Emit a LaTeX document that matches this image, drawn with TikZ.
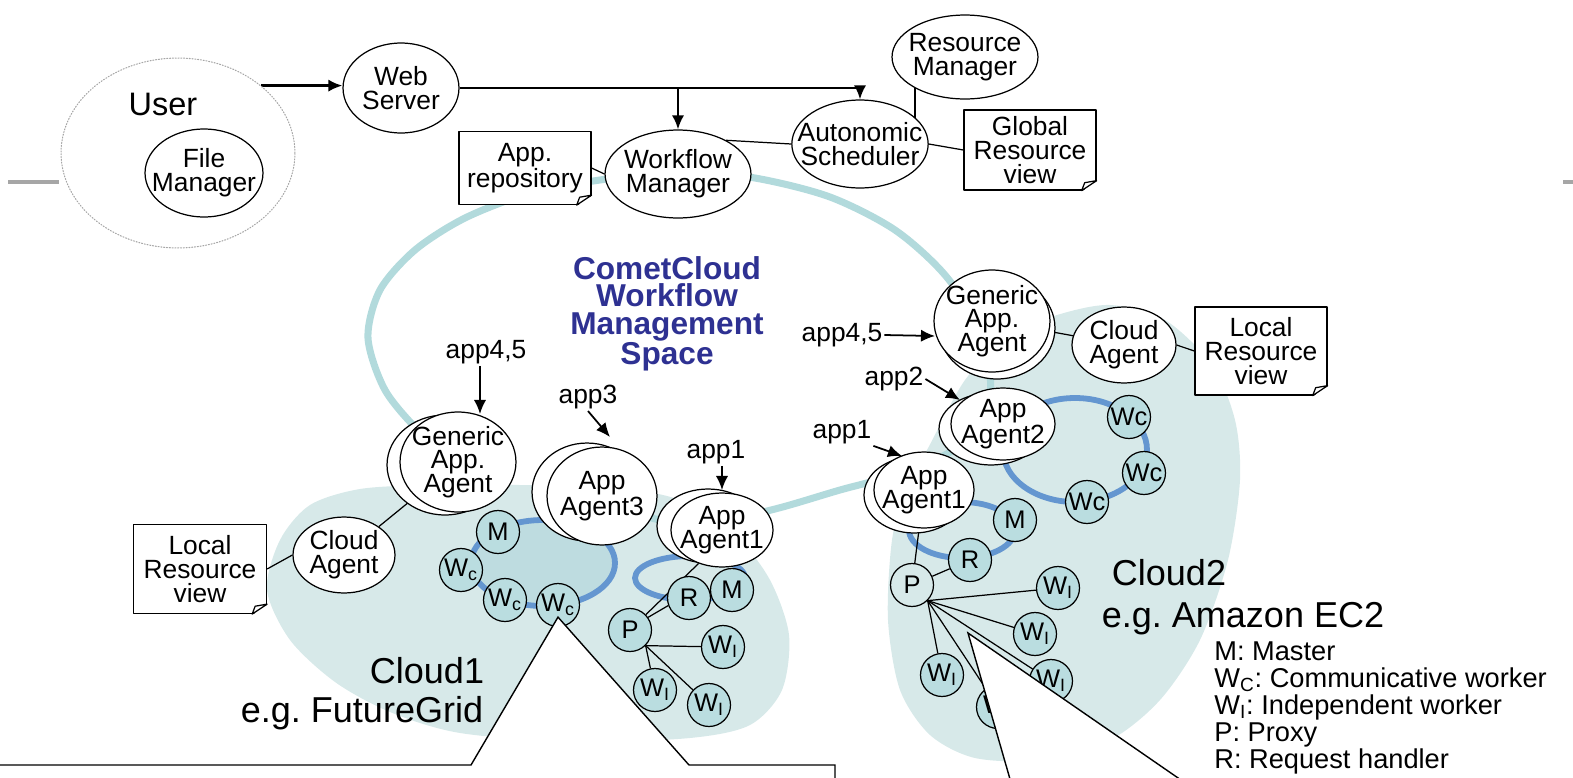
\documentclass[tikz,border=0pt]{standalone}
\usepackage{fontspec}
\setmainfont{Liberation Sans}
\usepackage{xcolor}
\usepackage{tikz}
\usetikzlibrary{arrows.meta,shapes.geometric}

\definecolor{ringteal}{RGB}{178,218,220}
\definecolor{cloudfill}{RGB}{215,233,233}
\definecolor{unitfill}{RGB}{186,221,224}
\definecolor{poolfill}{RGB}{190,220,224}
\definecolor{poolblue}{RGB}{100,150,208}
\definecolor{cometblue}{RGB}{46,49,146}

\pgfdeclarelayer{back}
\pgfdeclarelayer{wires}
\pgfsetlayers{back,wires,main}

\newcommand{\wsub}[1]{W\textsubscript{#1}}
\frenchspacing

\begin{document}
\begin{tikzpicture}[
		x=0.02cm,
		y=-0.02cm,
		>={Latex[length=8pt,width=7pt]},
		line cap=round,
		line join=round,
		comp/.style={ellipse,draw,fill=white,line width=0.7pt,inner sep=-8pt,align=center,font=\fontsize{15}{13.5}\selectfont},
		rad/.style 2 args={minimum width=#1*0.04cm,minimum height=#2*0.04cm},
		note/.style={rectangle,draw,fill=white,line width=0.7pt,inner sep=0pt,align=center,font=\fontsize{15}{13.5}\selectfont},
		notesize/.style 2 args={minimum width=#1*0.02cm,minimum height=#2*0.02cm},
		unit/.style={circle,draw,fill=unitfill,line width=0.7pt,minimum size=0.86cm,inner sep=0pt,font=\fontsize{14.5}{14.5}\selectfont},
		conn/.style={line width=0.7pt},
		mainflow/.style={line width=1.4pt,->},
		appflow/.style={line width=1pt,->},
		applbl/.style={inner sep=1pt,font=\fontsize{15}{15}\selectfont},
		cloudtxt/.style={anchor=base,inner sep=0pt,font=\fontsize{20.5}{20.5}\selectfont},
		legendtxt/.style={anchor=base west,inner sep=0pt,font=\fontsize{15.5}{15.5}\selectfont},
		spacering/.style={draw=ringteal,line width=4pt},
		pool/.style={draw=poolblue,line width=3.3pt},
		callout/.style={draw,fill=white,line width=0.8pt,line join=miter}
	]
	
	\useasboundingbox (0,0) rectangle (1573,778);
	
	% clouds and the shared space
	\begin{pgfonlayer}{back}
		\fill[cloudfill] plot[smooth cycle] coordinates {(267,590) (280,540) (310,505) (360,489) (430,485) (520,485) (610,487) (680,500) (735,535) (770,580) (789,635) (782,690) (750,725) (690,738) (575,742) (460,733) (390,712) (335,682) (290,640)};
		\fill[cloudfill] plot[smooth cycle] coordinates {(1057,315) (1110,305) (1165,320) (1212,365) (1235,420) (1240,480) (1228,560) (1200,640) (1160,700) (1110,740) (1040,760) (975,758) (930,735) (900,690) (888,620) (892,540) (907,483) (927,450) (965,380) (1010,335)};
		\draw[spacering] plot[smooth] coordinates {(590,495) (640,515) (700,525) (775,509) (840,490) (905,472) (960,445) (990,395) (980,330) (945,275) (895,230) (830,197) (755,178) (680,171) (600,180) (530,193) (465,218) (415,250) (380,290) (368,338) (385,390) (420,432) (458,460)};
		\filldraw[pool,fill=poolfill] (543,563) ellipse [x radius=72,y radius=43];
		\draw[pool] (690,578) ellipse [x radius=55,y radius=22];
		\draw[pool] (1075,450) ellipse [x radius=72,y radius=52];
		\draw[pool] (962,530) ellipse [x radius=53,y radius=28];
		% slide rule
		\draw[gray!70,line width=2.3pt,line cap=butt] (8,182) -- (59,182);
		\draw[gray!70,line width=2.3pt,line cap=butt] (1563,182) -- (1573,182);
	\end{pgfonlayer}
	
	% top row
	\node[ellipse,draw=gray!70,densely dotted,line width=0.6pt,fill=white,rad={117}{95}] (user) at (178,153) {};
	\node[font=\fontsize{18.5}{18.5}\selectfont] (usertxt) at (163,104) {User};
	\node[comp,rad={59}{44}] (filemgr) at (204,173) {File\\Manager};
	\node[comp,rad={58}{45}] (web) at (401,88) {Web\\Server};
	\node[note,notesize={132}{73}] (repo) at (525,168) {App.\\repository};
	\node[comp,rad={73}{44}] (wfm) at (678,174) {Workflow\\Manager};
	\node[comp,rad={68}{44}] (sched) at (860,144) {Autonomic\\Scheduler};
	\node[comp,rad={73}{42}] (resmgr) at (965,57) {Resource\\Manager};
	\node[note,notesize={132}{80}] (grv) at (1030,150) {Global\\Resource\\view};
	
	\node[align=center,text=cometblue,font=\bfseries\fontsize{18}{15.5}\selectfont] (space) at (667,314) {CometCloud\\Workflow\\Management\\Space};
	
	% Cloud1
	\node[comp,rad={58}{50}] (ga1b) at (445,465) {};
	\node[comp,rad={58}{50}] (ga1) at (458,462) {Generic\\App.\\Agent};
	\node[comp,rad={51}{38}] (ca1) at (344,555) {Cloud\\Agent};
	\node[note,notesize={133}{89}] (lrv1) at (200,569) {Local\\Resource\\view};
	\node[comp,rad={55}{49}] (aa3b) at (587,492) {};
	\node[comp,rad={55}{49}] (aa3) at (602,496) {App\\Agent3};
	\node[comp,rad={51}{37}] (aa1b) at (708,526) {};
	\node[comp,rad={51}{37}] (aa1) at (722,530) {App\\Agent1};
	
	\node[unit] (m1) at (498,532) {M};
	\node[unit] (wc1a) at (461,570) {\wsub{c}};
	\node[unit] (wc1b) at (505,600) {\wsub{c}};
	\node[unit] (wc1c) at (558,605) {\wsub{c}};
	\node[unit] (r1) at (689,598) {R};
	\node[unit] (m1b) at (732,590) {M};
	\node[unit] (p1) at (630,630) {P};
	\node[unit] (wi1a) at (723,647) {\wsub{I}};
	\node[unit] (wi1b) at (655,690) {\wsub{I}};
	\node[unit] (wi1c) at (709,705) {\wsub{I}};
	
	\node[cloudtxt] (c1name) at (427,683) {Cloud1};
	\node[cloudtxt] (c1eg) at (362,722) {e.g. FutureGrid};
	
	% Cloud2
	\node[comp,rad={58}{51}] (ga2b) at (997,328) {};
	\node[comp,rad={58}{51}] (ga2) at (992,321) {Generic\\App.\\Agent};
	\node[comp,rad={52}{38}] (ca2) at (1124,345) {Cloud\\Agent};
	\node[note,notesize={132}{88}] (lrv2) at (1261,351) {Local\\Resource\\view};
	\node[comp,rad={52}{36}] (aa2b) at (991,429) {};
	\node[comp,rad={52}{36}] (aa2) at (1003,424) {App\\Agent2};
	\node[comp,rad={50}{38}] (aa1cb) at (914,495) {};
	\node[comp,rad={50}{38}] (aa1c) at (924,490) {App\\Agent1};
	
	\node[unit] (wc2a) at (1129,417) {Wc};
	\node[unit] (wc2b) at (1144,473) {Wc};
	\node[unit] (wc2c) at (1087,502) {Wc};
	\node[unit] (m2) at (1015,520) {M};
	\node[unit] (r2) at (970,560) {R};
	\node[unit,fill=cloudfill] (p2) at (912,585) {P};
	\node[unit] (wi2a) at (1058,588) {\wsub{I}};
	\node[unit] (wi2b) at (1035,634) {\wsub{I}};
	\node[unit] (wi2c) at (1051,681) {\wsub{I}};
	\node[unit] (wi2d) at (942,675) {\wsub{I}};
	\node[unit] (wi2e) at (998,707) {\wsub{I}};
	
	\node[cloudtxt] (c2name) at (1169,585) {Cloud2};
	\node[cloudtxt] (c2eg) at (1243,627) {e.g. Amazon EC2};
	
	% folded corners
	\foreach \n in {repo,grv,lrv1,lrv2} {
		\fill[white] ([xshift=-8.5pt,yshift=-0.6pt]\n.south east) -- ([shift={(0.6pt,-0.6pt)}]\n.south east) -- ([xshift=0.6pt,yshift=5.7pt]\n.south east) -- cycle;
		\draw[conn] ([xshift=-8.5pt]\n.south east) -- ([yshift=5.7pt]\n.south east) -- ([shift={(-6.8pt,4.5pt)}]\n.south east) -- cycle;
	}
	
	% app labels
	\node[applbl] (in45a) at (486,352) {app4,5};
	\node[applbl] (in3) at (588,397) {app3};
	\node[applbl] (in1a) at (716,452) {app1};
	\node[applbl] (in45b) at (842,335) {app4,5};
	\node[applbl] (in2) at (894,379) {app2};
	\node[applbl] (in1b) at (842,432) {app1};
	
	\coordinate (to45a) at (480,414);
	\coordinate (to3) at (610,437);
	\coordinate (to1a) at (722,490);
	\coordinate (to45b) at (935,336);
	\coordinate (to2) at (960,400);
	\coordinate (to1b) at (902,456);
	
	% legend
	\foreach \entry [count=\i] in {M: Master,\wsub{C}: Communicative worker,\wsub{I}: Independent worker,P: Proxy,R: Request handler}
		\node[legendtxt] (legend\i) at (1214,{633+27*\i}) {\entry};
	
	% connectors
	\begin{pgfonlayer}{wires}
		\draw[mainflow] (user.39) -- (user.39 -| web.west);
		\draw[mainflow] (web.east) -| (sched.north);
		\draw[mainflow] (web.east -| wfm.north) -- (wfm.north);
		\draw[conn] ([xshift=-1cm]resmgr.center) -- ([xshift=-1cm]resmgr.center |- sched.center);
		\draw[conn] (wfm.35) -- (sched.west);
		\draw[conn] (repo.east) -- (wfm.west);
		\draw[conn] (sched.east) -- (grv.west);
		
		\draw[conn] (ga1) -- (ca1);
		\draw[conn] (lrv1.east) -- (ca1.west);
		\draw[conn] (p1) -- (aa1.235);
		\draw[conn] (p1.35) -- (r1.200);
		\foreach \w in {wi1a,wi1b,wi1c}
			\draw[conn] (p1.-45) -- (\w);
		
		\draw[conn] (ga2) -- (ca2);
		\draw[conn] (ca2.east) -- (lrv2.west);
		\draw[conn] (aa1c) -- (p2);
		\draw[conn] (p2) -- (r2);
		\foreach \w in {wi2a,wi2b,wi2c,wi2d,wi2e}
			\draw[conn] (p2.-45) -- (\w);
		
		\draw[appflow] (in45a.south -| to45a) -- (to45a);
		\draw[appflow] (in3.south) -- (to3);
		\draw[appflow] (in1a.south -| to1a) -- (to1a);
		\draw[appflow] (in45b.east) -- (to45b);
		\draw[appflow] (in2.east) -- (to2);
		\draw[appflow] (in1b.south east) -- (to1b);
	\end{pgfonlayer}
	
	% callouts
	\coordinate (tip1) at ([yshift=0.2cm]wc1c.south);
	\coordinate (tip2) at (968,633);
	\filldraw[callout] (-20,765) -- (471,765) -- (tip1) -- (689,765) -- (835,765) -- (835,800) -- (-20,800) -- cycle;
	\filldraw[callout] (1016,800) -- (tip2) -- (1210,800) -- cycle;
	
\end{tikzpicture}
\end{document}
